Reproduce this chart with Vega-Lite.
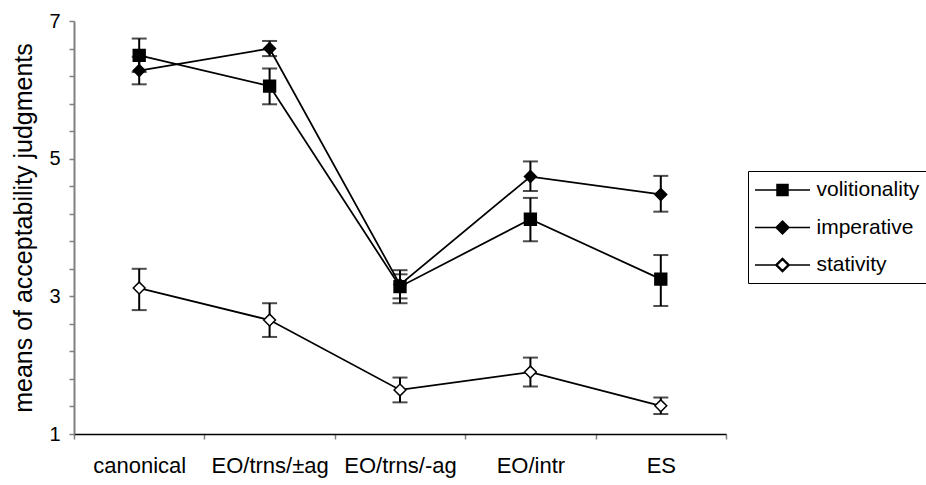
{
  "$schema": "https://vega.github.io/schema/vega-lite/v6.json",
  "width": 652,
  "height": 413,
  "autosize": {"type": "none"},
  "padding": {"left": 74, "top": 21, "right": 200, "bottom": 51},
  "background": "white",
  "config": {
    "view": {"stroke": null},
    "font": "Liberation Sans",
    "axis": {"grid": false, "labelFont": "Liberation Sans", "titleFont": "Liberation Sans", "labelColor": "black", "titleColor": "black", "titleFontWeight": "normal"},
    "axisY": {"labelOverlap": false, "labelBound": false, "labelFlush": false, "labelFontSize": 20, "labelPadding": 9, "tickSize": 5, "tickColor": "#808080", "tickWidth": 1.5, "domainColor": "#808080", "domainWidth": 2, "titleFontSize": 25, "titlePadding": 12},
    "legend": {"labelFont": "Liberation Sans"}
  },
  "data": {
    "values": [
      {"category": "canonical", "series": "volitionality", "mean": 6.50, "lo": 6.26, "hi": 6.745},
      {"category": "canonical", "series": "imperative", "mean": 6.28, "lo": 6.08, "hi": 6.48},
      {"category": "canonical", "series": "stativity", "mean": 3.12, "lo": 2.80, "hi": 3.40},
      {"category": "EO/trns/±ag", "series": "volitionality", "mean": 6.055, "lo": 5.79, "hi": 6.31},
      {"category": "EO/trns/±ag", "series": "imperative", "mean": 6.60, "lo": 6.49, "hi": 6.71},
      {"category": "EO/trns/±ag", "series": "stativity", "mean": 2.655, "lo": 2.41, "hi": 2.90},
      {"category": "EO/trns/-ag", "series": "volitionality", "mean": 3.14, "lo": 2.90, "hi": 3.38},
      {"category": "EO/trns/-ag", "series": "imperative", "mean": 3.17, "lo": 2.97, "hi": 3.32},
      {"category": "EO/trns/-ag", "series": "stativity", "mean": 1.64, "lo": 1.46, "hi": 1.82},
      {"category": "EO/intr", "series": "volitionality", "mean": 4.12, "lo": 3.80, "hi": 4.43},
      {"category": "EO/intr", "series": "imperative", "mean": 4.74, "lo": 4.53, "hi": 4.96},
      {"category": "EO/intr", "series": "stativity", "mean": 1.90, "lo": 1.69, "hi": 2.11},
      {"category": "ES", "series": "volitionality", "mean": 3.25, "lo": 2.86, "hi": 3.60},
      {"category": "ES", "series": "imperative", "mean": 4.48, "lo": 4.23, "hi": 4.75},
      {"category": "ES", "series": "stativity", "mean": 1.41, "lo": 1.29, "hi": 1.53}
    ]
  },
  "encoding": {
    "x": {
      "field": "category", "type": "nominal",
      "sort": ["canonical", "EO/trns/±ag", "EO/trns/-ag", "EO/intr", "ES"],
      "scale": {"paddingInner": 0, "paddingOuter": 0},
      "axis": {"title": null, "labelAngle": 0, "labelFontSize": 22, "tickBand": "extent", "tickSize": 5, "tickColor": "#808080", "tickWidth": 1.5, "domainColor": "black", "domainWidth": 1.5, "labelPadding": 16, "labelBaseline": "top"}
    }
  },
  "resolve": {"scale": {"shape": "independent"}, "legend": {"shape": "independent"}},
  "layer": [
    {
      "mark": {"type": "line", "color": "black", "strokeWidth": 1.75},
      "encoding": {
        "y": {
          "field": "mean", "type": "quantitative",
          "scale": {"domain": [1, 7], "nice": false, "zero": false},
          "axis": {"title": "means of acceptability judgments", "values": [1, 1.4, 1.8, 2.2, 2.6, 3, 3.4, 3.8, 4.2, 4.6, 5, 5.4, 5.8, 6.2, 6.6, 7], "format": ".0f", "labelExpr": "indexof([1,3,5,7], datum.value) >= 0 ? datum.label : ''", "labelOverlap": false}
        },
        "detail": {"field": "series"}
      }
    },
    {
      "mark": {"type": "rule", "color": "black", "strokeWidth": 2},
      "encoding": {
        "y": {"field": "lo", "type": "quantitative", "axis": {"title": "means of acceptability judgments", "values": [1, 1.4, 1.8, 2.2, 2.6, 3, 3.4, 3.8, 4.2, 4.6, 5, 5.4, 5.8, 6.2, 6.6, 7], "format": ".0f", "labelExpr": "indexof([1,3,5,7], datum.value) >= 0 ? datum.label : ''", "labelOverlap": false}},
        "y2": {"field": "hi"}
      }
    },
    {
      "mark": {"type": "tick", "orient": "horizontal", "color": "black", "size": 15, "thickness": 2},
      "encoding": {"y": {"field": "lo", "type": "quantitative", "axis": {"title": "means of acceptability judgments", "values": [1, 1.4, 1.8, 2.2, 2.6, 3, 3.4, 3.8, 4.2, 4.6, 5, 5.4, 5.8, 6.2, 6.6, 7], "format": ".0f", "labelExpr": "indexof([1,3,5,7], datum.value) >= 0 ? datum.label : ''", "labelOverlap": false}}}
    },
    {
      "mark": {"type": "tick", "orient": "horizontal", "color": "black", "size": 15, "thickness": 2},
      "encoding": {"y": {"field": "hi", "type": "quantitative", "axis": {"title": "means of acceptability judgments", "values": [1, 1.4, 1.8, 2.2, 2.6, 3, 3.4, 3.8, 4.2, 4.6, 5, 5.4, 5.8, 6.2, 6.6, 7], "format": ".0f", "labelExpr": "indexof([1,3,5,7], datum.value) >= 0 ? datum.label : ''", "labelOverlap": false}}}
    },
    {
      "mark": {"type": "point", "filled": true, "stroke": "black", "strokeWidth": 1.5, "size": 140, "opacity": 1},
      "encoding": {
        "y": {"field": "mean", "type": "quantitative", "axis": {"title": "means of acceptability judgments", "values": [1, 1.4, 1.8, 2.2, 2.6, 3, 3.4, 3.8, 4.2, 4.6, 5, 5.4, 5.8, 6.2, 6.6, 7], "format": ".0f", "labelExpr": "indexof([1,3,5,7], datum.value) >= 0 ? datum.label : ''", "labelOverlap": false}},
        "shape": {
          "field": "series", "type": "nominal",
          "scale": {"domain": ["volitionality", "imperative", "stativity"], "range": ["square", "diamond", "diamond"]},
          "legend": null
        },
        "fill": {
          "field": "series", "type": "nominal",
          "scale": {"domain": ["volitionality", "imperative", "stativity"], "range": ["black", "black", "white"]},
          "legend": null
        }
      }
    },
    {
      "mark": {"type": "point", "filled": true, "color": "black", "stroke": "black", "strokeWidth": 1.25, "size": 400, "opacity": 0},
      "encoding": {
        "y": {"field": "mean", "type": "quantitative", "axis": {"title": "means of acceptability judgments", "values": [1, 1.4, 1.8, 2.2, 2.6, 3, 3.4, 3.8, 4.2, 4.6, 5, 5.4, 5.8, 6.2, 6.6, 7], "format": ".0f", "labelExpr": "indexof([1,3,5,7], datum.value) >= 0 ? datum.label : ''", "labelOverlap": false}},
        "shape": {
          "field": "series", "type": "nominal",
          "scale": {"domain": ["volitionality", "imperative", "stativity"], "range": ["M-2.75,0H2.75M-0.55,-0.55H0.55V0.55H-0.55Z", "M-2.75,0H2.75M-0.65,0L0,-0.65L0.65,0L0,0.65Z", "M-2.75,0H-0.68M0.68,0H2.75M-0.68,0L0,-0.68L0.68,0L0,0.68ZM-0.55,0L0,0.55L0.55,0L0,-0.55Z"]},
          "legend": {
            "title": null, "orient": "none", "legendX": 674, "legendY": 150,
            "strokeColor": "black", "padding": 8, "labelFontSize": 21, "labelColor": "black", "labelLimit": 300,
            "symbolOffset": 15.5, "labelOffset": 23, "rowPadding": 16.5, "symbolSize": 400
          }
        }
      }
    }
  ]
}
